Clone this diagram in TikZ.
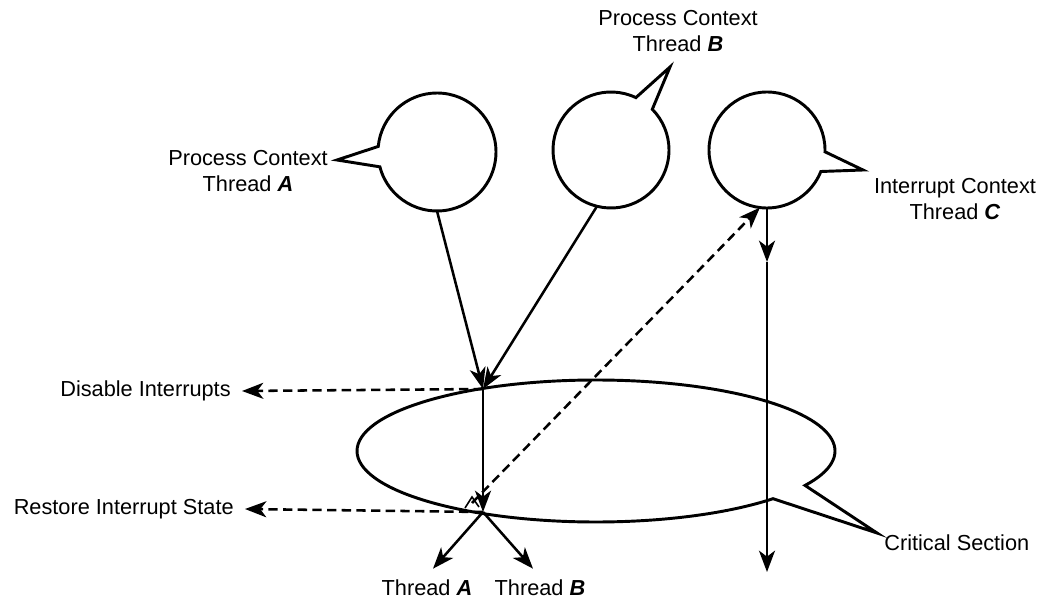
\documentclass[tikz,border=0pt]{standalone}
\usepackage{fontspec}
\setmainfont{Liberation Sans}
\usetikzlibrary{arrows.meta,shapes.callouts,calc}
\newcommand{\thr}[1]{\textbf{\textit{#1}}}
\tikzset{every picture/.style={line width=2pt}}
\tikzset{
  bubble/.style={ellipse callout, draw, line width=2.2pt, inner sep=0pt, outer sep=0pt,
    minimum width=87pt, minimum height=87pt, callout pointer arc=20},
  lbl/.style={inner sep=0pt, align=center, font=\fontsize{16.3}{19.5}\selectfont},
  arr/.style={line width=1.9pt, -{Stealth[length=16pt,width=12pt,inset=4.5pt]}},
  darr/.style={arr, dash pattern=on 7pt off 4pt},
}

\begin{document}
\begin{tikzpicture}[x=0.75pt,y=0.75pt,yscale=-1,xscale=1]
\useasboundingbox (0,0) rectangle (1043,599);

% pointer tips of the bubbles
\coordinate (tipA) at (337,160);
\coordinate (tipB) at (670,67);
\coordinate (tipC) at (863,170);
\coordinate (tipS) at (877,533);

%Shape: Circle [thread A]
\node[bubble, minimum width=88.5pt, minimum height=88.5pt, callout absolute pointer={(tipA)}] (cA) at (437,152) {};
%Shape: Circle [thread B]
\node[bubble, callout absolute pointer={(tipB)}] (cB) at (611,150) {};
%Shape: Circle [thread C]
\node[bubble, callout absolute pointer={(tipC)}] (cC) at (767,150) {};
%Shape: Ellipse [critical section]
\coordinate (cs) at (596,451);
\draw[line width=2.2pt, line join=miter] (tipS) -- ($(cs)+(42.2:239 and 71)$)
  arc[start angle=42.2, end angle=389, x radius=239, y radius=71] -- cycle;

% Text Node
\node[lbl] (labA) at (248,171) {Process Context\\Thread \thr{A}};
% Text Node
\node[lbl] (labB) at (678,31) {Process Context\\Thread \thr{B}};
% Text Node
\node[lbl] (labC) at (955,199) {Interrupt Context\\Thread \thr{C}};
% Text Node
\node[lbl, anchor=east] (dis) at (232,391) {Disable Interrupts};
% Text Node
\node[lbl, anchor=east] (res) at (235,509) {Restore Interrupt State};
% Text Node
\node[lbl, inner ysep=7.5pt] (thA) at (427,588) {Thread \thr{A}};
% Text Node
\node[lbl, inner ysep=7.5pt] (thB) at (540,588) {Thread \thr{B}};
% Text Node
\node[lbl, anchor=west] (crit) at (883,543) {Critical Section};

% points on the critical section
\coordinate (P) at (483,389);
\coordinate (Q) at (483,512);
\coordinate (dS) at (472,503);
\coordinate (mC) at (767,262);
\coordinate (eC) at (767,572);

%Shape: small open triangle at the start of the dashed line
\draw[line width=1.2pt] (465,508) -- (472,497) -- (479,507);

%Straight Lines
\draw[arr] (cA.south) -- (P);
\draw[arr] (cB.256) -- (P);
\draw[arr] (P) -- (Q);
\draw[darr] (P) -- ([xshift=7.5pt]dis.east);
\draw[darr] (Q) -- ([xshift=7.5pt]res.east);
\draw[darr] (dS) -- (cC.263);
\draw[arr] (cC.south) -- (mC);
\draw[arr] (mC) -- (eC);
\draw[arr] (Q) -- ([xshift=4.5pt]thA.north);
\draw[arr] (Q) -- ([xshift=-5.25pt]thB.north);

\end{tikzpicture}
\end{document}
